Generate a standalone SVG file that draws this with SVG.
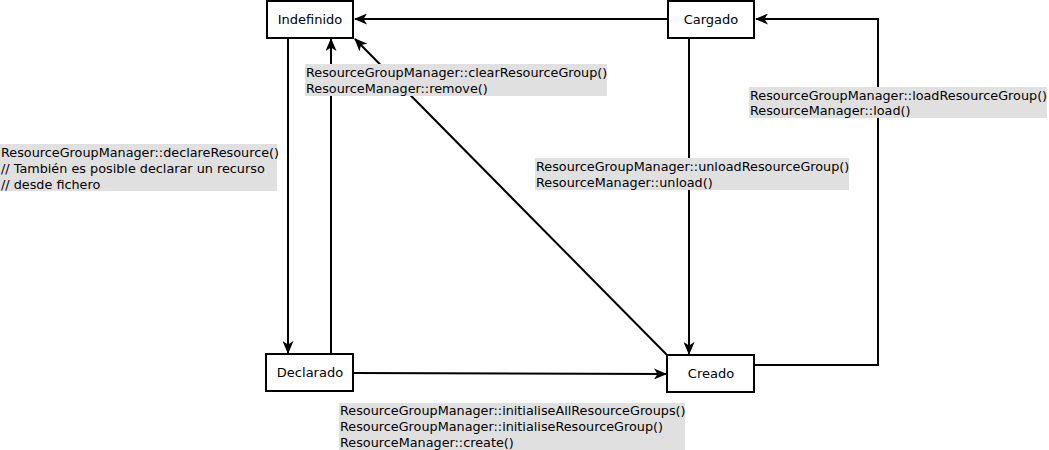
<svg xmlns="http://www.w3.org/2000/svg" width="1049" height="450" viewBox="0 0 1049 450">
<style>
.box{fill:#fff;stroke:#000;stroke-width:2}
.node{font-family:"DejaVu Sans",sans-serif;font-size:13px;fill:#000;text-anchor:middle}
.lbl{font-family:"DejaVu Sans",sans-serif;font-size:12.8px;fill:#000}
.bg{fill:#e0e0e0}
.edge{fill:none;stroke:#000;stroke-width:2}
</style>
<defs>
<marker id="ah" markerUnits="userSpaceOnUse" markerWidth="13" markerHeight="11" viewBox="0 0 13 11" refX="12" refY="5.5" orient="auto">
<path d="M0,0 L13,5.5 L0,11 L3.5,5.5 z" fill="#000"/>
</marker>
</defs>
<rect width="1049" height="450" fill="#fff"/>
<g id="connectors">
<line class="edge" x1="668" y1="19" x2="355" y2="19" marker-end="url(#ah)"/>
<line class="edge" x1="288" y1="38" x2="288" y2="353" marker-end="url(#ah)"/>
<line class="edge" x1="331" y1="354" x2="331" y2="39" marker-end="url(#ah)"/>
<line class="edge" x1="667" y1="355" x2="355" y2="39" marker-end="url(#ah)"/>
<line class="edge" x1="689" y1="38" x2="689" y2="354" marker-end="url(#ah)"/>
<polyline class="edge" points="754,365 878,365 878,19 756,19" marker-end="url(#ah)"/>
<line class="edge" x1="353" y1="373" x2="666" y2="374" marker-end="url(#ah)"/>
</g>
<g id="label-clear">
<rect class="bg" x="305" y="64" width="302" height="32"/>
<text class="lbl" x="306" y="77">ResourceGroupManager::clearResourceGroup()</text>
<text class="lbl" x="306" y="93">ResourceManager::remove()</text>
</g>
<g id="label-declare">
<rect class="bg" x="0" y="144" width="277" height="47"/>
<text class="lbl" x="1" y="157">ResourceGroupManager::declareResource()</text>
<text class="lbl" x="1" y="173">// También es posible declarar un recurso</text>
<text class="lbl" x="1" y="189">// desde fichero</text>
</g>
<g id="label-unload">
<rect class="bg" x="535" y="158" width="314" height="32"/>
<text class="lbl" x="536" y="171">ResourceGroupManager::unloadResourceGroup()</text>
<text class="lbl" x="536" y="187">ResourceManager::unload()</text>
</g>
<g id="label-load">
<rect class="bg" x="749" y="87" width="298" height="31"/>
<text class="lbl" x="750" y="100">ResourceGroupManager::loadResourceGroup()</text>
<text class="lbl" x="750" y="115">ResourceManager::load()</text>
</g>
<g id="label-init">
<rect class="bg" x="339" y="403" width="346" height="47"/>
<text class="lbl" x="340" y="415">ResourceGroupManager::initialiseAllResourceGroups()</text>
<text class="lbl" x="340" y="431">ResourceGroupManager::initialiseResourceGroup()</text>
<text class="lbl" x="340" y="447">ResourceManager::create()</text>
</g>
<g id="node-indefinido">
<rect class="box" x="267" y="1" width="86" height="37"/>
<text class="node" x="310" y="24">Indefinido</text>
</g>
<g id="node-cargado">
<rect class="box" x="668" y="1" width="86" height="37"/>
<text class="node" x="711" y="24">Cargado</text>
</g>
<g id="node-declarado">
<rect class="box" x="266" y="354" width="87" height="37"/>
<text class="node" x="310" y="377">Declarado</text>
</g>
<g id="node-creado">
<rect class="box" x="667" y="355" width="87" height="37"/>
<text class="node" x="711" y="378">Creado</text>
</g>
</svg>
